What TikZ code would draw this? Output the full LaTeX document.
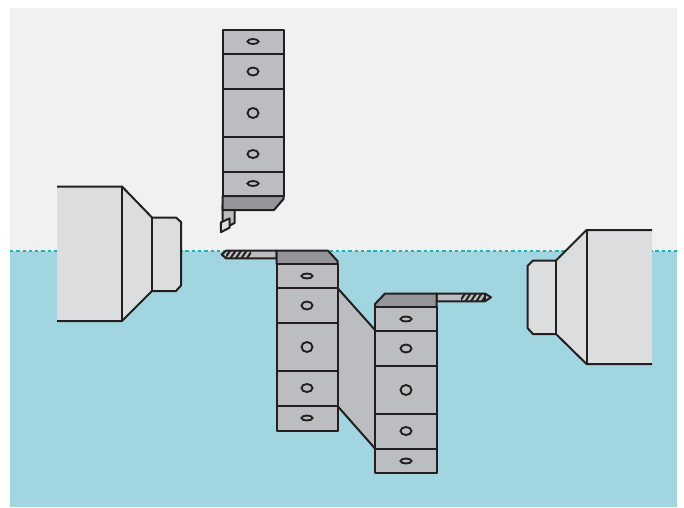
\documentclass[tikz,border=0pt]{standalone}
\definecolor{bgtop}{HTML}{F1F1F1}
\definecolor{bgwater}{HTML}{A1D6E1}
\definecolor{chuck}{HTML}{DCDDDF}
\definecolor{steel}{HTML}{BBBDC0}
\definecolor{steeldark}{HTML}{939598}
\definecolor{ink}{HTML}{231F20}
\definecolor{teal}{HTML}{1FB3B8}
\tikzset{
  px/.style={x=0.75pt,y=-0.75pt},
  outline/.style={draw=ink,line width=1.5pt,line join=round},
  chuckfill/.style={fill=chuck,draw=none},
  steelpart/.style={outline,fill=steel},
  darkpart/.style={outline,fill=steeldark},
  hole/.style={draw=ink,line width=1.4pt,fill=steel},
  waterline/.style={draw=teal,line width=1.3pt,dash pattern=on 2.5pt off 2.2pt},
  thread/.style={draw=ink,line width=1.5pt}
}
\newcommand{\holeat}[3]{\draw[hole] (#1,#2) ellipse [x radius=5.5,y radius=#3];}
\newcommand{\toolstack}[8]{%
  \draw[steelpart] (#1,#3) rectangle (#2,#8);
  \draw[outline] (#1,#4) -- (#2,#4) (#1,#5) -- (#2,#5) (#1,#6) -- (#2,#6) (#1,#7) -- (#2,#7);
}
\begin{document}
\begin{tikzpicture}[px]
\useasboundingbox (0,0) rectangle (684,507);
\fill[white] (0,0) rectangle (684,507);
\fill[bgtop] (10,8) rectangle (677,251);
\fill[bgwater] (10,251) rectangle (677,507);
\draw[waterline] (10,251) -- (677,251);

% left chuck
\fill[chuckfill] (57,186.5) -- (122,186.5) -- (152,217.5) -- (176,217.5) -- (181,222) -- (181,285.5) -- (176,291) -- (152,291) -- (122,321) -- (57,321) -- cycle;
\draw[outline] (57,186.5) -- (122,186.5) -- (152,217.5) -- (176,217.5) -- (181,222) -- (181,285.5) -- (176,291) -- (152,291) -- (122,321) -- (57,321);
\draw[outline] (122,186.5) -- (122,321) (152,217.5) -- (152,291);

% right chuck
\fill[chuckfill] (652,230) -- (586.5,230) -- (556,260.5) -- (533,260.5) -- (527.5,266) -- (527.5,328) -- (533,334) -- (556,334) -- (586.5,364) -- (652,364) -- cycle;
\draw[outline] (652,230) -- (586.5,230) -- (556,260.5) -- (533,260.5) -- (527.5,266) -- (527.5,328) -- (533,334) -- (556,334) -- (586.5,364) -- (652,364);
\draw[outline] (586.5,230) -- (586.5,364) (556,260.5) -- (556,334);

% top turret: boring tool
\draw[steelpart] (222.5,205) -- (222.5,223) -- (229.7,225.5) -- (234.7,223) -- (234.7,205) -- cycle;
\draw[outline,fill=chuck] (220.9,222.4) -- (229.5,218.4) -- (229.5,227.7) -- (220.9,232.2) -- cycle;
\draw[darkpart] (222.5,196) -- (283.5,196) -- (283.5,199) -- (274,210) -- (222.5,210) -- cycle;
\toolstack{222.5}{283.5}{29.5}{53.5}{89}{136.5}{171.5}{196}
\holeat{253}{41.5}{2.5}
\holeat{253}{71.5}{4}
\holeat{253}{113}{5}
\holeat{253}{154}{4}
\holeat{253}{183.5}{2.5}

% link between the two lower turrets
\draw[steelpart] (337.5,288) -- (375,330) -- (375,448.5) -- (337.5,406) -- cycle;

% middle turret: drill
\draw[steelpart] (276.5,250.7) -- (226,250.7) -- (221.7,254.5) -- (226,258.3) -- (276.5,258.3) -- cycle;
\begin{scope}
  \clip (226,250.7) rectangle (251,258.3);
  \foreach \s in {226,231.5,237,242.5,248}
    \draw[thread] (\s-1,258.3) -- (\s+4,250.7);
\end{scope}
\draw[darkpart] (276.5,264) -- (276.5,250.7) -- (328,250.7) -- (337.5,261) -- (337.5,264) -- cycle;
\toolstack{276.5}{337.5}{264}{288}{323}{371}{406}{430.5}
\holeat{307}{276}{2.5}
\holeat{307}{305.5}{4}
\holeat{307}{347}{5}
\holeat{307}{388}{4}
\holeat{307}{418}{2.5}

% right turret: drill
\draw[steelpart] (436.5,293.5) -- (485,293.5) -- (491,297.3) -- (485,301.3) -- (436.5,301.3) -- cycle;
\begin{scope}
  \clip (461,293.5) rectangle (485,301.3);
  \foreach \s in {461,466.5,472,477.5,483}
    \draw[thread] (\s-1,301.3) -- (\s+4,293.5);
\end{scope}
\draw[outline] (485,293.5) -- (485,301.3);
\draw[darkpart] (375,307) -- (375,304) -- (385,293.5) -- (436.5,293.5) -- (436.5,307) -- cycle;
\toolstack{375}{436.5}{307}{330.5}{366}{413.5}{448.5}{473}
\holeat{406}{319}{2.5}
\holeat{406}{348.5}{4}
\holeat{406}{390}{5}
\holeat{406}{431}{4}
\holeat{406}{461}{2.5}
\end{tikzpicture}
\end{document}
